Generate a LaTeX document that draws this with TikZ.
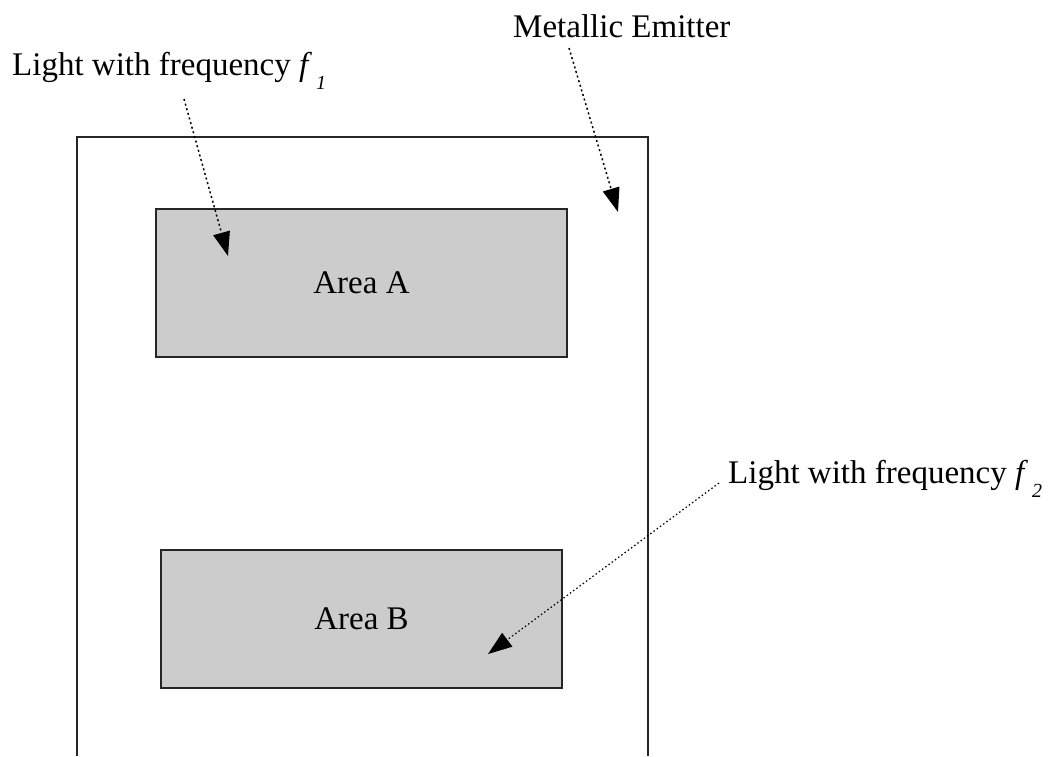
\documentclass[tikz,border=0pt]{standalone}
\usepackage{fontspec}
\setmainfont{Liberation Serif}
\usetikzlibrary{arrows.meta}

\definecolor{areagray}{HTML}{CCCCCC}
\newcommand\freqsym[1]{\textit{f}\kern4pt\raisebox{-14pt}{\fontsize{20}{20}\selectfont\itshape #1}}

\tikzset{
  emitterline/.style={draw=black!85, line width=1.5pt},
  areabox/.style={draw=black!85, line width=1.7pt, fill=areagray, inner sep=0pt},
  lbl/.style={inner sep=0pt, anchor=base west},
  ray/.style={line width=1.5pt, dash pattern=on 2pt off 2.8pt,
    -{Triangle[length=24pt,width=17pt]}},
  finray/.style={ray, line width=1.2pt, dash pattern=on 1.5pt off 2.5pt},
}

\begin{document}
\begin{tikzpicture}[x=1pt, y=-1pt, font=\fontsize{33}{39}\selectfont]
  \fill[white] (0,0) rectangle (1050,756);
  \useasboundingbox (0,0) rectangle (1050,756);

  % metallic emitter plate (runs off the bottom edge)
  \draw[emitterline] (77,756) -- (77,137) -- (648,137) -- (648,756);

  % illuminated areas
  \node[areabox, minimum width=411pt, minimum height=148pt] (areaA) at (361.5,283) {Area A};
  \node[areabox, minimum width=401pt, minimum height=138pt] (areaB) at (361.5,619) {Area B};

  % labels
  \node[lbl] (f1lbl) at (12,75) {Light with frequency \freqsym{1}};
  \node[lbl] (emlbl) at (513,37) {Metallic Emitter};
  \node[lbl] (f2lbl) at (728,483) {Light with frequency \freqsym{2}};

  % ray end points
  \coordinate (f1start) at (184,99);
  \coordinate (f1tip) at (228,256);
  \coordinate (emstart) at (569,48);
  \coordinate (emtip) at (618,212);
  \coordinate (f2start) at (719,483);
  \coordinate (f2tip) at (488,654);

  \draw[ray] (f1start) -- (f1tip);
  \draw[ray] (emstart) -- (emtip);
  \draw[finray] (f2start) -- (f2tip);
\end{tikzpicture}
\end{document}
